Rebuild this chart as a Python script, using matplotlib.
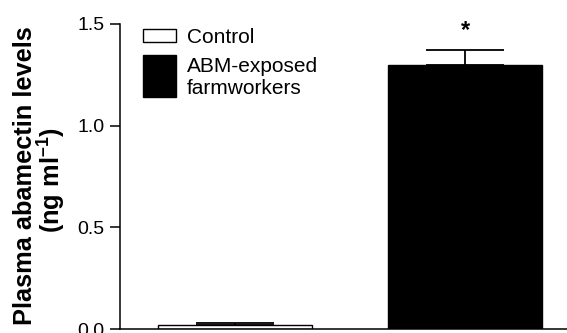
import matplotlib
matplotlib.use("Agg")
import matplotlib.pyplot as plt
from matplotlib.patches import Rectangle

plt.rcParams['font.family'] = ['Liberation Sans', 'DejaVu Sans']
plt.rcParams['mathtext.fontset'] = 'custom'
plt.rcParams['mathtext.rm'] = 'Liberation Sans:bold'
plt.rcParams['mathtext.bf'] = 'Liberation Sans:bold'

groups = ["Control", "ABM-exposed\nfarmworkers"]
means = [0.02, 1.30]
sems = [0.01, 0.07]
colors = ["white", "black"]
yticks = [0.0, 0.5, 1.0, 1.5]
ytick_labels = ["0.0", "0.5", "1.0", "1.5"]
significance = ["", "*"]

W, H = 567, 333
fig = plt.figure(figsize=(W / 100, H / 100), dpi=100)

def fx(px):
    return px / W

def fy(py):
    return 1 - py / H

ax = fig.add_axes([fx(120), fy(329), fx(567) - fx(120), fy(24) - fy(329)])

x = list(range(len(groups)))
ax.bar(x, means, width=0.67, color=colors, edgecolor="black", linewidth=1.0, zorder=2)
ax.errorbar(x, means, yerr=[[0] * len(sems), sems], fmt="none", ecolor="black",
            elinewidth=1.3, capsize=28, capthick=1.3, zorder=1)
for xi, m, s, sig in zip(x, means, sems, significance):
    if sig:
        ax.text(xi, m + s + 0.04, sig, ha="center", va="bottom", fontsize=17, fontweight="bold")

ax.set_xlim(-0.5, 1.443)
ax.set_ylim(0, 1.5)
ax.set_yticks(yticks)
ax.set_yticklabels(ytick_labels, fontsize=14)
ax.set_xticks([])
ax.tick_params(axis="y", direction="out", length=7.5, width=1.1, pad=3.5)
for side in ["top", "right"]:
    ax.spines[side].set_visible(False)
for side in ["left", "bottom"]:
    ax.spines[side].set_linewidth(1.1)

# Y label (two lines)
fig.text(fx(25), fy(176), "Plasma abamectin levels", rotation=90, ha="center", va="center",
         fontsize=18.3, fontweight="bold")
fig.text(fx(52), fy(180), "(ng ml$^{\u2013\\mathbf{1}}$)", rotation=90, ha="center", va="center",
         fontsize=18.3, fontweight="bold")

# Legend (manual)
fig.add_artist(Rectangle((fx(143), fy(42)), fx(176) - fx(143), fy(29) - fy(42),
                         transform=fig.transFigure, facecolor=colors[0], edgecolor="black", linewidth=1.0))
fig.add_artist(Rectangle((fx(143), fy(97)), fx(176) - fx(143), fy(55) - fy(97),
                         transform=fig.transFigure, facecolor=colors[1], edgecolor="black", linewidth=1.0))
fig.text(fx(187), fy(43), groups[0], ha="left", va="baseline", fontsize=15)
lines = groups[1].split("\n")
fig.text(fx(187), fy(72), lines[0], ha="left", va="baseline", fontsize=15)
fig.text(fx(187), fy(94), lines[1], ha="left", va="baseline", fontsize=15)

fig.savefig("out.png", dpi=100)
